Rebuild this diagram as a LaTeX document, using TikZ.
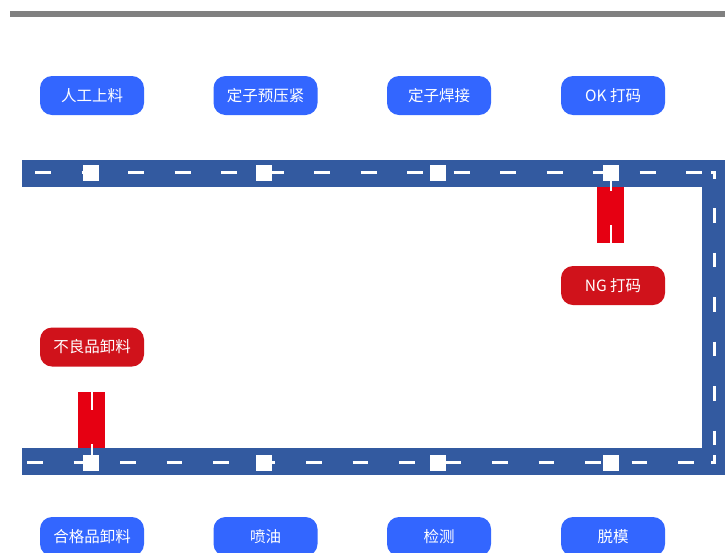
\documentclass[tikz,border=0pt]{standalone}
\usepackage{fontspec}
\newfontfamily\cjk{Noto Sans CJK SC}
\definecolor{btnblue}{RGB}{51,102,255}
\definecolor{beltblue}{RGB}{51,90,160}
\definecolor{lblred}{RGB}{208,18,27}
\definecolor{devred}{RGB}{230,0,18}
\definecolor{bargray}{RGB}{128,128,128}
\tikzset{
  btn/.style={fill=btnblue, rounded corners=12pt, minimum width=104pt, minimum height=39pt,
    inner sep=0pt, text=white, font=\cjk\fontsize{15.5}{18}\selectfont},
  redbtn/.style={btn, fill=lblred},
  beltdash/.style={draw=white, line width=3pt},
  sq/.style={fill=white, draw=none, minimum size=16pt, inner sep=0pt},
  device/.style={fill=devred, draw=none, minimum width=27pt, minimum height=56pt, inner sep=0pt},
  devline/.style={draw=white, line width=2pt}
}
\begin{document}
\begin{tikzpicture}[x=1pt,y=-1pt]
\useasboundingbox (0,0) rectangle (725,552);
\clip (0,0) rectangle (725,552);
% gray bar
\fill[bargray] (10,11) rectangle (725,17);
% belt
\fill[beltblue] (22,160) rectangle (725,187);
\fill[beltblue] (22,448) rectangle (725,475);
\fill[beltblue] (702,160) rectangle (725,475);
% top dashes
\foreach \k in {0,...,14} {
  \draw[beltdash] ({35+46.5*\k},172.5) -- ({51+46.5*\k},172.5);
}
% bottom dashes
\foreach \k in {0,...,14} {
  \draw[beltdash] ({27+46.5*\k},462) -- ({42.5+46.5*\k},462);
}
% right dashes
\foreach \k in {0,...,5} {
  \draw[beltdash] (714,{208+44.5*\k}) -- (714,{222.5+44.5*\k});
}
\draw[beltdash] (711,172.5) -- (714,172.5) -- (714,179);
\draw[beltdash] (714,455) -- (714,462) -- (711,462);
% red devices
\node[device] (d1) at (610.5,215) {};
\node[device] (d2) at (91.5,420) {};
\draw[devline] (610.5,181) -- (610.5,191);
\draw[devline] (610.5,225) -- (d1.south);
\draw[devline] (d2.north) -- (91.5,410);
\draw[devline] (91.5,444) -- (91.5,455);
% squares
\foreach \x/\n in {91/a,264/b,438/c,611/d} {
  \node[sq] (t\n) at (\x,173) {};
  \node[sq] (b\n) at (\x,463) {};
}
% labels
\node[btn] (n1) at (92,95.5) {人工上料};
\node[btn] (n2) at (265.5,95.5) {定子预压紧};
\node[btn] (n3) at (439,95.5) {定子焊接};
\node[btn] (n4) at (613,95.5) {OK 打码};
\node[redbtn] (n5) at (613,285.5) {NG 打码};
\node[redbtn] (n6) at (92,347) {不良品卸料};
\node[btn] (n7) at (92,536.5) {合格品卸料};
\node[btn] (n8) at (265.5,536.5) {喷油};
\node[btn] (n9) at (439,536.5) {检测};
\node[btn] (n10) at (613,536.5) {脱模};
\end{tikzpicture}
\end{document}
